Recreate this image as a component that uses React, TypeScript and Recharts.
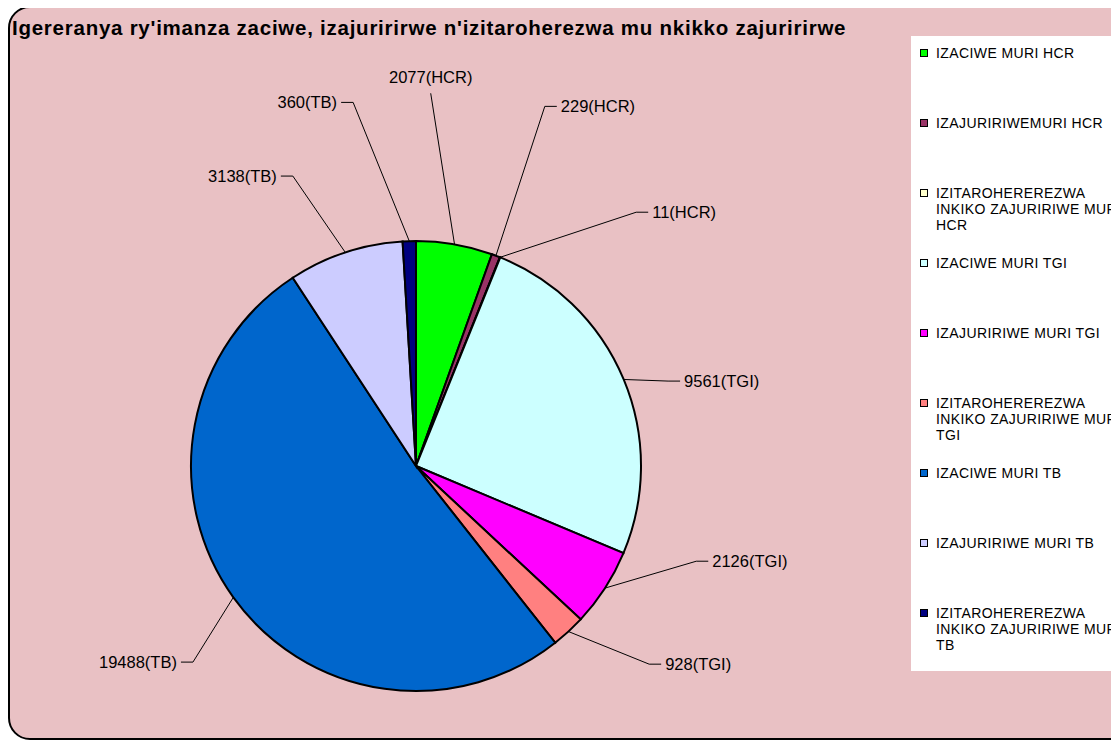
import { PieChart, Pie, Cell, Legend } from "recharts";

const CATEGORIES = [
  "IZACIWE MURI HCR",
  "IZAJURIRIWEMURI HCR",
  "IZITAROHEREREZWA INKIKO ZAJURIRIWE MURI HCR",
  "IZACIWE MURI TGI",
  "IZAJURIRIWE MURI TGI",
  "IZITAROHEREREZWA INKIKO ZAJURIRIWE MURI TGI",
  "IZACIWE MURI TB",
  "IZAJURIRIWE MURI TB",
  "IZITAROHEREREZWA INKIKO ZAJURIRIWE MURI TB",
];
const VALUES = [2077, 229, 11, 9561, 2126, 928, 19488, 3138, 360];
const GROUPS = ["HCR", "HCR", "HCR", "TGI", "TGI", "TGI", "TB", "TB", "TB"];
const COLORS = [
  "#00FF00",
  "#993366",
  "#FFFFCC",
  "#CCFFFF",
  "#FF00FF",
  "#FF8080",
  "#0066CC",
  "#CCCCFF",
  "#000080",
];

const TITLE =
  "Igereranya ry'imanza zaciwe, izajuririrwe n'izitaroherezwa mu nkikko zajuririrwe";

// leader line layout: angle shift (deg, clockwise) from slice middle, elbow radius, text side
const LABEL_LAYOUT = [
  { shift: -7.6, r: 373, side: "top" },
  { shift: -1.1, r: 382, side: "right" },
  { shift: 19, r: 336, side: "right" },
  { shift: 4, r: 266, side: "right" },
  { shift: -14.1, r: 296, side: "right" },
  { shift: -7, r: 306, side: "right" },
  { shift: -5.6, r: 297, side: "left" },
  { shift: -4.7, r: 315, side: "left" },
  { shift: -8.1, r: 369, side: "left" },
];

const data = CATEGORIES.map((name, i) => ({
  name,
  value: VALUES[i],
  group: GROUPS[i],
}));

const RAD = Math.PI / 180;
const FONT = "'Liberation Sans', Arial, sans-serif";

const renderLabel = (props: any) => {
  const { cx, cy, midAngle, outerRadius, index } = props;
  const lay = LABEL_LAYOUT[index];
  const theta = 90 - midAngle;
  const at = (deg: number, r: number) => ({
    x: cx + r * Math.sin(deg * RAD),
    y: cy - r * Math.cos(deg * RAD),
  });
  const p0 = at(theta, outerRadius);
  const p1 = at(theta + lay.shift, lay.r);
  const text = `${VALUES[index]}(${GROUPS[index]})`;

  if (lay.side === "top") {
    return (
      <g>
        <polyline
          points={`${p0.x},${p0.y} ${p1.x},${p1.y}`}
          fill="none"
          stroke="#000"
          strokeWidth={1}
        />
        <text
          x={p1.x}
          y={p1.y - 10}
          textAnchor="middle"
          fontSize={16.5}
          fontFamily={FONT}
          fill="#000"
        >
          {text}
        </text>
      </g>
    );
  }
  const dir = lay.side === "right" ? 1 : -1;
  const p2 = { x: p1.x + dir * 12, y: p1.y };
  return (
    <g>
      <polyline
        points={`${p0.x},${p0.y} ${p1.x},${p1.y} ${p2.x},${p2.y}`}
        fill="none"
        stroke="#000"
        strokeWidth={1}
      />
      <text
        x={p2.x + dir * 4}
        y={p2.y}
        dy="0.35em"
        textAnchor={dir > 0 ? "start" : "end"}
        fontSize={16.5}
        fontFamily={FONT}
        fill="#000"
      >
        {text}
      </text>
    </g>
  );
};

// legend keeps the series order of the data
const renderLegend = () => (
  <div
    style={{
      background: "#fff",
      width: 240,
      height: 635,
      paddingTop: 9,
      boxSizing: "border-box",
      fontFamily: FONT,
      fontSize: 14,
      lineHeight: "16px",
      letterSpacing: 0.4,
      color: "#000",
    }}
  >
    {data.map((d, i) => (
      <div
        key={d.name}
        style={{ height: 70, display: "flex", alignItems: "flex-start" }}
      >
        <span
          style={{
            width: 6,
            height: 6,
            marginLeft: 9,
            marginTop: 4,
            marginRight: 8,
            border: "1px solid #000",
            background: COLORS[i],
            flex: "none",
          }}
        />
        <span style={{ width: 192, flex: "none" }}>{d.name}</span>
      </div>
    ))}
  </div>
);

export default function App() {
  return (
    <div
      style={{
        marginTop: -2,
        width: 1111,
        height: 736,
        overflow: "hidden",
        position: "relative",
      }}
    >
      <div
        style={{
          position: "absolute",
          left: 0,
          top: 0,
          width: 1160,
          height: 734,
          border: "2px solid #000",
          borderRadius: 22,
          background: "#e9c1c4",
          boxSizing: "border-box",
        }}
      />
      <div
        style={{
          position: "absolute",
          left: 4,
          top: 11,
          fontFamily: FONT,
          fontWeight: "bold",
          fontSize: 20.5,
          lineHeight: "21px",
          letterSpacing: 0.75,
          whiteSpace: "nowrap",
          color: "#000",
        }}
      >
        {TITLE}
      </div>
      <div style={{ position: "absolute", left: 0, top: 0 }}>
        <PieChart
          width={1111}
          height={736}
          margin={{ top: 0, right: 0, bottom: 0, left: 0 }}
        >
          <Pie
            data={data}
            dataKey="value"
            nameKey="name"
            cx={408}
            cy={460}
            outerRadius={225}
            startAngle={90}
            endAngle={-270}
            stroke="#000"
            strokeWidth={2}
            labelLine={false}
            label={renderLabel}
            isAnimationActive={false}
          >
            {data.map((d, i) => (
              <Cell key={d.name} fill={COLORS[i]} />
            ))}
          </Pie>
          <Legend
            layout="vertical"
            align="right"
            verticalAlign="middle"
            content={renderLegend}
            wrapperStyle={{ left: 903, top: 30, width: 240, height: 635 }}
          />
        </PieChart>
      </div>
    </div>
  );
}
